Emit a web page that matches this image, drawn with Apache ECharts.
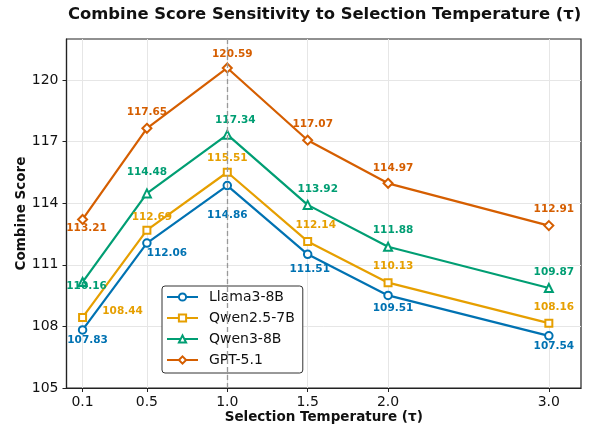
<!DOCTYPE html>
<html>
<head>
<meta charset="utf-8">
<script src="https://cdn.jsdelivr.net/npm/echarts@6/dist/echarts.min.js"></script>
<style>
  html, body { margin: 0; padding: 0; background: #fff; }
  #chart { width: 589px; height: 428px; }
</style>
</head>
<body>
<div id="chart"></div>
<script>
// temperatures on the x axis
var temps = [0.1, 0.5, 1.0, 1.5, 2.0, 3.0];
var yTicks = [105, 108, 111, 114, 117, 120];

var llama = [107.83, 112.06, 114.86, 111.51, 109.51, 107.54];
var qwen25 = [108.44, 112.69, 115.51, 112.14, 110.13, 108.16];
var qwen3 = [110.16, 114.48, 117.34, 113.92, 111.88, 109.87];
var gpt51 = [113.21, 117.65, 120.59, 117.07, 114.97, 112.91];

var FONT = 'DejaVu Sans';

// where each value label sits relative to its point (px)
var labelOffsets = {
  llama: [[5, 10], [20, 10], [0, 30], [2, 15], [5, 13], [5, 10]],
  qwen25: [[40, -6], [5, -13], [0, -14], [8, -16], [5, -16], [5, -16]],
  qwen3: [[4, 4], [0, -21], [8, -14], [10, -16], [5, -16], [5, -16]],
  gpt: [[4, 9], [0, -16], [5, -14], [5, -16], [5, -15], [5, -16]]
};

function makeSeries(name, values, color, symbol, size, offsets) {
  return {
    name: name,
    type: 'line',
    data: values.map(function (v, i) {
      return {
        value: [temps[i], v],
        label: { offset: offsets[i] }
      };
    }),
    symbol: symbol,
    symbolSize: size,
    lineStyle: { color: color, width: 2.2 },
    itemStyle: { color: color, borderColor: color, borderWidth: 1.5 },
    label: {
      show: true,
      position: 'inside',
      color: color,
      fontFamily: FONT,
      fontWeight: 'bold',
      fontSize: 10.5,
      formatter: function (p) { return p.value[1].toFixed(2); }
    },
    emphasis: { disabled: true },
    animation: false,
    z: 3
  };
}

var chart = echarts.init(document.getElementById('chart'));
chart.setOption({
  backgroundColor: '#fff',
  animation: false,
  title: {
    text: 'Combine Score Sensitivity to Selection Temperature (τ)',
    left: 68,
    top: 7,
    padding: 0,
    textStyle: { fontFamily: FONT, fontWeight: 'bold', fontSize: 16.4, color: '#111' }
  },
  grid: {
    left: 66.5, top: 39, right: 8, bottom: 40,
    outerBoundsMode: 'none',
    containLabel: false,
    show: true,
    borderColor: '#222',
    borderWidth: 1.2,
    backgroundColor: '#fff'
  },
  legend: {
    orient: 'vertical',
    left: 162,
    top: 286,
    padding: [4, 8, 6, 4],
    itemWidth: 31,
    itemHeight: 9,
    itemGap: 7,
    backgroundColor: '#fff',
    borderColor: '#333',
    borderWidth: 1,
    borderRadius: 3,
    textStyle: { fontFamily: FONT, fontSize: 14, color: '#111', padding: [0, 0, 0, 6] },
    data: ['Llama3-8B', 'Qwen2.5-7B', 'Qwen3-8B', 'GPT-5.1']
  },
  xAxis: {
    type: 'value',
    min: 0,
    max: 3.2,
    name: 'Selection Temperature (τ)',
    nameLocation: 'middle',
    nameGap: 22,
    nameMoveOverlap: false,
    nameTextStyle: { fontFamily: FONT, fontWeight: 'bold', fontSize: 13.5, color: '#111' },
    axisLine: { show: true, lineStyle: { color: '#222', width: 1.2 } },
    axisTick: { show: true, length: 4, lineStyle: { color: '#222' }, customValues: temps },
    axisLabel: {
      customValues: temps,
      margin: 7,
      fontFamily: FONT,
      fontSize: 14,
      color: '#111',
      formatter: function (v) { return v.toFixed(1); }
    },
    splitLine: { show: true, lineStyle: { color: '#e6e6e6', width: 1 } }
  },
  yAxis: {
    type: 'value',
    min: 105,
    max: 122,
    interval: 3,
    name: 'Combine Score',
    nameLocation: 'middle',
    nameGap: 38,
    nameMoveOverlap: false,
    nameTextStyle: { fontFamily: FONT, fontWeight: 'bold', fontSize: 13.5, color: '#111' },
    axisLine: { show: true, lineStyle: { color: '#222', width: 1.2 } },
    axisTick: { show: true, length: 4, lineStyle: { color: '#222' }, customValues: yTicks },
    axisLabel: {
      customValues: yTicks,
      margin: 8,
      fontFamily: FONT,
      fontSize: 14,
      color: '#111'
    },
    splitLine: { show: true, lineStyle: { color: '#e6e6e6', width: 1 } }
  },
  series: [
    {
      name: 'peak',
      type: 'line',
      data: [],
      z: 1,
      silent: true,
      markLine: {
        silent: true,
        symbol: 'none',
        label: { show: false },
        lineStyle: { color: '#999', type: [5, 3], width: 1.3 },
        data: [{ xAxis: 1.0 }]
      }
    },
    makeSeries('Llama3-8B', llama, '#0072B2', 'emptyCircle', 7.5, labelOffsets.llama),
    makeSeries('Qwen2.5-7B', qwen25, '#E69F00', 'emptyRect', 7, labelOffsets.qwen25),
    makeSeries('Qwen3-8B', qwen3, '#009E73', 'emptyTriangle', 8, labelOffsets.qwen3),
    makeSeries('GPT-5.1', gpt51, '#D55E00', 'emptyDiamond', 9, labelOffsets.gpt)
  ]
});
</script>
</body>
</html>
